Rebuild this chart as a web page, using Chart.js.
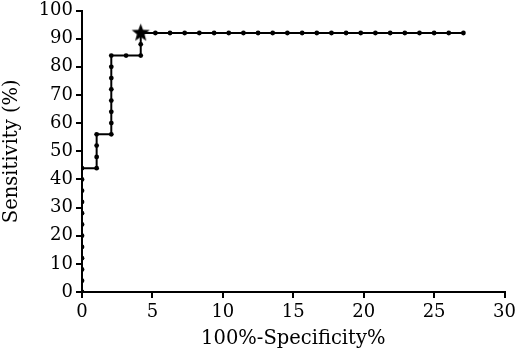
<!DOCTYPE html>
<html>
<head>
<meta charset="utf-8">
<script src="https://cdn.jsdelivr.net/npm/chart.js@4/dist/chart.umd.min.js"></script>
<style>
  html, body { margin: 0; padding: 0; background: #fff; }
  #wrap { width: 520px; height: 353px; }
</style>
</head>
<body>
<div id="wrap"><canvas id="roc"></canvas></div>
<script>
// ROC curve points (100%-specificity, sensitivity)
const fprVals = [0, 0, 0, 0, 0, 0, 0, 0, 0, 0, 0, 0,
  1.04, 1.04, 1.04, 1.04,
  2.08, 2.08, 2.08, 2.08, 2.08, 2.08, 2.08, 2.08,
  3.13,
  4.17, 4.17, 4.17,
  5.21, 6.25, 7.29, 8.33, 9.38, 10.42, 11.46, 12.50, 13.54, 14.58, 15.63,
  16.67, 17.71, 18.75, 19.79, 20.83, 21.88, 22.92, 23.96, 25.00, 26.04, 27.08];
const sensVals = [0, 4, 8, 12, 16, 20, 24, 28, 32, 36, 40, 44,
  44, 48, 52, 56,
  56, 60, 64, 68, 72, 76, 80, 84,
  84,
  84, 88, 92,
  92, 92, 92, 92, 92, 92, 92, 92, 92, 92, 92,
  92, 92, 92, 92, 92, 92, 92, 92, 92, 92, 92];

// best cut-off marked with a star
const cutoffX = [4.17];
const cutoffY = [92];

const xTicks = [0, 5, 10, 15, 20, 25, 30];
const yTicks = [0, 10, 20, 30, 40, 50, 60, 70, 80, 90, 100];

const FONT = 'DejaVu Serif';

// filled 5 point star used as point style
function makeStar(r) {
  const c = document.createElement('canvas');
  const s = Math.ceil(r * 2 + 2);
  c.width = s; c.height = s;
  const g = c.getContext('2d');
  g.fillStyle = '#000';
  g.beginPath();
  for (let i = 0; i < 10; i++) {
    const rad = i % 2 === 0 ? r : r * 0.42;
    const a = -Math.PI / 2 + i * Math.PI / 5;
    const px = s / 2 + rad * Math.cos(a), py = s / 2 + rad * Math.sin(a);
    if (i === 0) g.moveTo(px, py); else g.lineTo(px, py);
  }
  g.closePath();
  g.fill();
  return c;
}

const rocPts = fprVals.map((x, i) => ({ x: x, y: sensVals[i] }));
const starPts = cutoffX.map((x, i) => ({ x: x, y: cutoffY[i] }));

const config = {
  type: 'scatter',
  data: {
    datasets: [{
      data: starPts,
      pointStyle: makeStar(9.5),
      pointRadius: 9.5,
      showLine: false
    }, {
      data: rocPts,
      showLine: true,
      borderColor: '#000',
      borderWidth: 2,
      backgroundColor: '#000',
      pointBackgroundColor: '#000',
      pointBorderColor: '#000',
      pointRadius: 2.4,
      pointBorderWidth: 0
    }]
  },
  options: {
    responsive: true,
    maintainAspectRatio: false,
    animation: false,
    events: [],
    layout: { padding: { top: 0, right: 9, left: 0, bottom: 0 } },
    plugins: { legend: { display: false }, tooltip: { enabled: false } },
    scales: {
      x: {
        type: 'linear',
        min: 0, max: 30,
        afterBuildTicks: (ax) => { ax.ticks = xTicks.map(v => ({ value: v })); },
        afterFit: (ax) => { ax.height = 61; },
        border: { color: '#000', width: 2 },
        grid: { drawOnChartArea: false, drawTicks: true, tickLength: 6, color: '#000', lineWidth: 2 },
        ticks: { color: '#000', padding: 4, font: { family: FONT, size: 18 }, maxRotation: 0 },
        title: { display: true, text: '100%-Specificity%', color: '#000', padding: { top: 2, bottom: 2 }, font: { family: FONT, size: 19.5 } }
      },
      y: {
        type: 'linear',
        min: 0, max: 100,
        afterBuildTicks: (ax) => { ax.ticks = yTicks.map(v => ({ value: v })); },
        afterFit: (ax) => { ax.width = 82; },
        border: { color: '#000', width: 2 },
        grid: { drawOnChartArea: false, drawTicks: true, tickLength: 6, color: '#000', lineWidth: 2 },
        // small lineHeight so the top label may sit near the edge
        ticks: { color: '#000', padding: 3, font: { family: FONT, size: 18, lineHeight: 0.55 } },
        title: { display: true, text: 'Sensitivity (%)', color: '#000', padding: 0, font: { family: FONT, size: 19.5 } }
      }
    }
  }
};

const rocChart = new Chart(document.getElementById('roc'), config);
</script>
</body>
</html>
